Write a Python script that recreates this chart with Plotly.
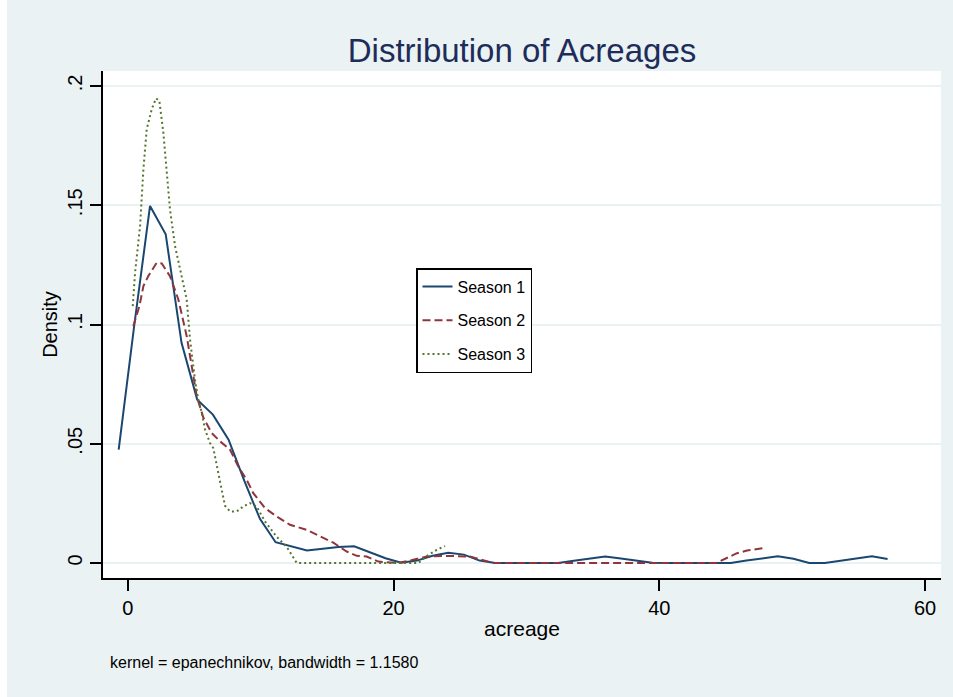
import plotly.graph_objects as go

# ---- data ----
s1_x = [-0.68, 0.50, 1.68, 2.86, 4.05, 5.23, 6.41, 7.59, 8.77, 9.95, 11.13, 12.31, 13.49, 14.67,
        15.86, 17.04, 18.22, 19.40, 20.58, 21.76, 22.94, 24.12, 25.30, 26.48, 27.66, 28.85, 30.03,
        31.21, 32.39, 33.57, 34.75, 35.93, 37.11, 38.29, 39.47, 40.65, 41.84, 43.02, 44.20, 45.38,
        46.56, 47.74, 48.92, 50.10, 51.28, 52.46, 53.64, 54.82, 56.00, 57.18]
s1_y = [0.0475, 0.100, 0.1497, 0.1378, 0.0923, 0.0685, 0.0622, 0.0517, 0.0345, 0.0185, 0.0087,
        0.0070, 0.0052, 0.0060, 0.0067, 0.0070, 0.0045, 0.0020, 0.0001, 0.0010, 0.0030, 0.0043,
        0.0035, 0.0010, 0.0, 0.0, 0.0, 0.0, 0.0, 0.0009, 0.0018, 0.0027, 0.0019, 0.0009, 0.0001,
        0.0, 0.0, 0.0, 0.0, 0.0, 0.0010, 0.0020, 0.0028, 0.0018, 0.0, 0.0, 0.0009, 0.0019, 0.0028,
        0.0017]

s2_x = [0.42, 0.88, 1.18, 1.55, 2.18, 2.56, 3.18, 3.81, 4.44, 5.19, 5.69, 6.32, 6.95, 7.70, 8.32,
        8.95, 9.45, 10.33, 11.21, 12.21, 13.47, 14.22, 15.47, 16.48, 17.23, 17.98, 18.86, 20.24,
        21.24, 22.50, 23.75, 25.76, 26.76, 27.50, 44.30, 44.80, 45.80, 46.60, 47.80]
s2_y = [0.0993, 0.1077, 0.1161, 0.1203, 0.1259, 0.1256, 0.1203, 0.1105, 0.0951, 0.0700, 0.0610,
        0.0545, 0.0510, 0.0475, 0.0405, 0.0349, 0.0293, 0.0230, 0.0195, 0.0160, 0.0139, 0.0118,
        0.0085, 0.0048, 0.0030, 0.0027, 0.0006, 0.0, 0.0010, 0.0027, 0.0030, 0.0027, 0.0010, 0.0,
        0.0, 0.0013, 0.0040, 0.0052, 0.0062]

s3_x = [0.38, 0.55, 0.93, 1.18, 1.43, 1.81, 2.13, 2.38, 2.68, 2.93, 3.18, 3.56, 4.06, 4.44, 4.69,
        5.06, 5.31, 5.57, 5.82, 6.19, 6.44, 6.82, 7.07, 7.32, 7.70, 8.20, 8.70, 9.20, 9.70, 10.33,
        11.21, 11.96, 12.72, 21.87, 22.50, 23.25, 23.88]
s3_y = [0.1077, 0.1217, 0.1413, 0.1651, 0.1819, 0.1903, 0.1948, 0.1938, 0.1805, 0.1637, 0.1483,
        0.1329, 0.1203, 0.1105, 0.0937, 0.0769, 0.0685, 0.0629, 0.0559, 0.0503, 0.0482, 0.0384,
        0.0307, 0.0240, 0.0216, 0.0216, 0.0237, 0.0251, 0.0237, 0.0174, 0.0110, 0.0068, 0.0,
        0.0, 0.0029, 0.0055, 0.0071]

series_names = ["Season 1", "Season 2", "Season 3"]
x_ticks = [0, 20, 40, 60]
y_ticks = [0, 0.05, 0.1, 0.15, 0.2]
y_ticktext = ["0", ".05", ".1", ".15", ".2"]

FONT = "Liberation Sans, Arial, sans-serif"
BG = "#eaf2f3"

L, R, T, B = 103, 941, 71, 578
W, H = 953, 697
PW, PH = R - L, B - T

fig = go.Figure()
fig.add_trace(go.Scatter(x=s1_x, y=s1_y, mode="lines", name=series_names[0], legendgroup="a",
                         line=dict(color="#1a476f", width=2)))
fig.add_trace(go.Scatter(x=s2_x, y=s2_y, mode="lines", name=series_names[1], legendgroup="b",
                         line=dict(color="#90353b", width=2, dash="8px,4px")))
fig.add_trace(go.Scatter(x=s3_x, y=s3_y, mode="lines", name=series_names[2], legendgroup="c",
                         line=dict(color="#55752f", width=2, dash="2px,3px")))

fig.update_layout(
    width=W, height=H,
    margin=dict(l=L, r=W - R, t=T, b=H - B),
    paper_bgcolor=BG, plot_bgcolor="white",
    font=dict(family=FONT, color="black"),
    title=dict(text="Distribution of Acreages", x=0.5, xref="paper", xanchor="center",
               y=1 - 50 / H, yanchor="middle",
               font=dict(size=33, color="#1e2c5a", family=FONT)),
    showlegend=True,
    legend=dict(x=(416 - L) / PW, y=(B - 268) / PH, xanchor="left", yanchor="top",
                bgcolor="white", bordercolor="black", borderwidth=1.5,
                font=dict(size=16, family=FONT), tracegroupgap=10, traceorder="grouped"),
    xaxis=dict(range=[-1.86, 61.2], tickvals=x_ticks, ticks="outside", ticklen=11,
               tickwidth=1.5, tickcolor="black", showline=True, linecolor="black",
               linewidth=1.5, showgrid=False, zeroline=False,
               tickfont=dict(size=20), title=dict(text="acreage", font=dict(size=21), standoff=4)),
    yaxis=dict(range=[-0.0063, 0.2063], tickvals=y_ticks, ticktext=y_ticktext, tickangle=-90,
               ticks="outside", ticklen=11, tickwidth=1.5, tickcolor="black", showline=True,
               linecolor="black", linewidth=1.5, showgrid=True, gridcolor=BG, gridwidth=2,
               zeroline=False, tickfont=dict(size=20),
               title=dict(text="Density", font=dict(size=20), standoff=1)),
    shapes=[dict(type="rect", xref="paper", yref="paper", x0=-L / PW, x1=-(L - 7) / PW,
                 y0=-1, y1=2, fillcolor="white", line=dict(width=0), layer="below")],
    annotations=[dict(text="kernel = epanechnikov, bandwidth = 1.1580", xref="paper", yref="paper",
                      x=(108 - L) / PW, y=(B - 662) / PH, xanchor="left", yanchor="middle",
                      showarrow=False, font=dict(size=16, family=FONT))],
)

fig.write_html("out.html", config={"displayModeBar": False},
               post_script="document.body.style.margin='0';document.body.style.overflow='hidden';")
